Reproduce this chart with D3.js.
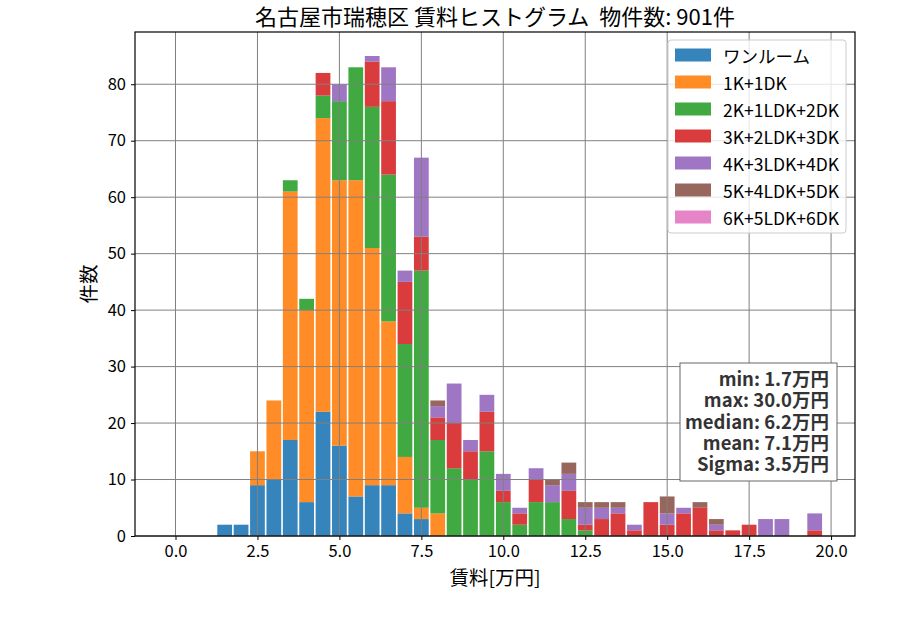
<!DOCTYPE html>
<html>
<head>
<meta charset="utf-8">
<script src="https://cdn.jsdelivr.net/npm/d3@7"></script>
<style>
  body { margin: 0; background: #fff; }
  svg { display: block; font-family: "Noto Sans CJK JP", "Noto Sans", sans-serif; }
</style>
</head>
<body>
<div id="chart"></div>
<script>
(function() { // keep things out of the global scope

  'use strict'

  // Bin centres (万円), bins are 0.5 wide.
  var binCenters = [1.5, 2.0, 2.5, 3.0, 3.5, 4.0, 4.5, 5.0, 5.5, 6.0, 6.5, 7.0, 7.5,
                    8.0, 8.5, 9.0, 9.5, 10.0, 10.5, 11.0, 11.5, 12.0, 12.5, 13.0,
                    13.5, 14.0, 14.5, 15.0, 15.5, 16.0, 16.5, 17.0, 17.5, 18.0,
                    18.5, 19.0, 19.5];

  var categories = ['ワンルーム', '1K+1DK', '2K+1LDK+2DK', '3K+2LDK+3DK',
                    '4K+3LDK+4DK', '5K+4LDK+5DK', '6K+5LDK+6DK'];

  // Counts per bin, one array per layout type.
  var oneRoom = [2, 2, 9, 10, 17, 6, 22, 16, 7, 9, 9, 4, 3,
                 0, 0, 0, 0, 0, 0, 0, 0, 0, 0, 0, 0, 0, 0, 0, 0, 0, 0, 0, 0, 0, 0, 0, 0];
  var k1 =      [0, 0, 6, 14, 44, 34, 52, 47, 56, 42, 29, 10, 2,
                 4, 0, 0, 0, 0, 0, 0, 0, 0, 0, 0, 0, 0, 0, 0, 0, 0, 0, 0, 0, 0, 0, 0, 0];
  var k2 =      [0, 0, 0, 0, 2, 2, 4, 14, 20, 25, 26, 20, 42,
                 13, 12, 10, 15, 6, 2, 6, 6, 3, 1, 0, 0, 0, 0, 0, 0, 0, 0, 0, 0, 0, 0, 0, 0];
  var k3 =      [0, 0, 0, 0, 0, 0, 4, 0, 0, 8, 13, 11, 6,
                 4, 8, 5, 7, 2, 2, 4, 0, 5, 1, 3, 4, 1, 6, 2, 4, 5, 1, 1, 2, 0, 0, 0, 1];
  var k4 =      [0, 0, 0, 0, 0, 0, 0, 3, 0, 1, 6, 2, 14,
                 2, 7, 2, 3, 3, 1, 2, 3, 3, 3, 2, 1, 1, 0, 2, 1, 0, 1, 0, 0, 3, 3, 0, 3];
  var k5 =      [0, 0, 0, 0, 0, 0, 0, 0, 0, 0, 0, 0, 0,
                 1, 0, 0, 0, 0, 0, 0, 1, 2, 1, 1, 1, 0, 0, 3, 0, 1, 1, 0, 0, 0, 0, 0, 0];
  var k6 =      [0, 0, 0, 0, 0, 0, 0, 0, 0, 0, 0, 0, 0,
                 0, 0, 0, 0, 0, 0, 0, 0, 0, 0, 0, 0, 0, 0, 0, 0, 0, 0, 0, 0, 0, 0, 0, 0];

  var xTicks = [0, 2.5, 5, 7.5, 10, 12.5, 15, 17.5, 20];
  var yTicks = [0, 10, 20, 30, 40, 50, 60, 70, 80];

  var statLines = ['min: 1.7万円', 'max: 30.0万円', 'median: 6.2万円',
                   'mean: 7.1万円', 'Sigma: 3.5万円'];

  var title = '名古屋市瑞穂区 賃料ヒストグラム  物件数: 901件';

  var colors = ['#1f77b4', '#ff7f0e', '#2ca02c', '#d62728', '#9467bd', '#8c564b', '#e377c2'];

  var width = 900, height = 630;
  var plot = { left: 135, right: 855, top: 32, bottom: 536 };
  var binWidth = 0.5, rwidth = 0.9;

  // Rows for d3.stack.
  var series = [oneRoom, k1, k2, k3, k4, k5, k6];
  var rows = binCenters.map(function(c, i) {
    var r = { center: c };
    categories.forEach(function(cat, j) { r[cat] = series[j][i]; });
    return r;
  });

  var stacked = d3.stack().keys(categories)(rows);

  var x = d3.scaleLinear().domain([-1.236, 20.73]).range([plot.left, plot.right]);
  var y = d3.scaleLinear().domain([0, 89.25]).range([plot.bottom, plot.top]);

  var svg = d3.select('#chart').append('svg')
              .attr('width', width)
              .attr('height', height);

  // Bars.
  var layers = svg.append('g').selectAll('g')
                  .data(stacked).enter().append('g')
                  .attr('fill', function(d, i) { return colors[i]; })
                  .attr('fill-opacity', 0.9);

  layers.selectAll('rect')
        .data(function(d) { return d.filter(function(p) { return p[1] > p[0]; }); })
        .enter().append('rect')
        .attr('x', function(d) { return x(d.data.center - binWidth * rwidth / 2); })
        .attr('width', function(d) { return x(binWidth * rwidth) - x(0); })
        .attr('y', function(d) { return y(d[1]); })
        .attr('height', function(d) { return y(d[0]) - y(d[1]); });

  // Grid on top of the bars.
  var grid = svg.append('g')
                .attr('stroke', '#808080')
                .attr('stroke-width', 1);
  grid.selectAll('line.gx').data(xTicks).enter().append('line')
      .attr('x1', function(d) { return x(d); }).attr('x2', function(d) { return x(d); })
      .attr('y1', plot.top).attr('y2', plot.bottom);
  grid.selectAll('line.gy').data(yTicks).enter().append('line')
      .attr('y1', function(d) { return y(d); }).attr('y2', function(d) { return y(d); })
      .attr('x1', plot.left).attr('x2', plot.right);

  // Axes.
  var xAxis = svg.append('g')
                 .attr('transform', 'translate(0,' + plot.bottom + ')')
                 .call(d3.axisBottom(x).tickValues(xTicks).tickFormat(d3.format('.1f'))
                         .tickSizeOuter(0).tickSize(4).tickPadding(5));
  var yAxis = svg.append('g')
                 .attr('transform', 'translate(' + plot.left + ',0)')
                 .call(d3.axisLeft(y).tickValues(yTicks).tickFormat(d3.format('d'))
                         .tickSizeOuter(0).tickSize(4).tickPadding(5));

  [xAxis, yAxis].forEach(function(a) {
    a.select('.domain').remove();
    a.selectAll('text')
     .style('font-family', '"Noto Sans CJK JP", sans-serif')
     .style('font-size', '16.5px')
     .attr('fill', '#000');
    a.selectAll('line').attr('stroke', '#000');
  });

  // Frame.
  svg.append('rect')
     .attr('x', plot.left).attr('y', plot.top)
     .attr('width', plot.right - plot.left)
     .attr('height', plot.bottom - plot.top)
     .attr('fill', 'none')
     .attr('stroke', '#000')
     .attr('stroke-width', 1.2);

  // Titles.
  svg.append('text')
     .attr('x', (plot.left + plot.right) / 2).attr('y', 25)
     .attr('text-anchor', 'middle')
     .style('font-size', '22px')
     .style('white-space', 'pre')
     .text(title);
  svg.append('text')
     .attr('x', (plot.left + plot.right) / 2).attr('y', 585)
     .attr('text-anchor', 'middle')
     .style('font-size', '19.5px')
     .text('賃料[万円]');
  svg.append('text')
     .attr('transform', 'translate(96,' + ((plot.top + plot.bottom) / 2) + ') rotate(-90)')
     .attr('text-anchor', 'middle')
     .style('font-size', '19.5px')
     .text('件数');

  // Legend.
  var legend = svg.append('g').attr('transform', 'translate(668,40)');
  legend.append('rect')
        .attr('width', 178).attr('height', 193).attr('rx', 3)
        .attr('fill', '#fff').attr('fill-opacity', 0.8)
        .attr('stroke', '#ccc');
  var items = legend.selectAll('g.item')
                    .data(categories).enter().append('g')
                    .attr('transform', function(d, i) { return 'translate(0,' + (15 + i * 27) + ')'; });
  items.append('rect')
       .attr('x', 7).attr('y', -6.5).attr('width', 36).attr('height', 13)
       .attr('fill', function(d, i) { return colors[i]; })
       .attr('fill-opacity', 0.9);
  items.append('text')
       .attr('x', 55).attr('y', 0)
       .attr('dominant-baseline', 'central')
       .style('font-size', '17.5px')
       .text(function(d) { return d; });

  // Summary box.
  var stats = svg.append('g');
  stats.append('rect')
       .attr('x', 680).attr('y', 363).attr('width', 157).attr('height', 118)
       .attr('fill', '#fff').attr('stroke', '#666');
  stats.selectAll('text').data(statLines).enter().append('text')
       .attr('x', 829)
       .attr('y', function(d, i) { return 378 + i * 21.3; })
       .attr('text-anchor', 'end')
       .attr('dominant-baseline', 'central')
       .attr('fill', '#333')
       .style('font-size', '18.5px')
       .style('font-weight', 'bold')
       .text(function(d) { return d; });

})();
</script>
</body>
</html>
